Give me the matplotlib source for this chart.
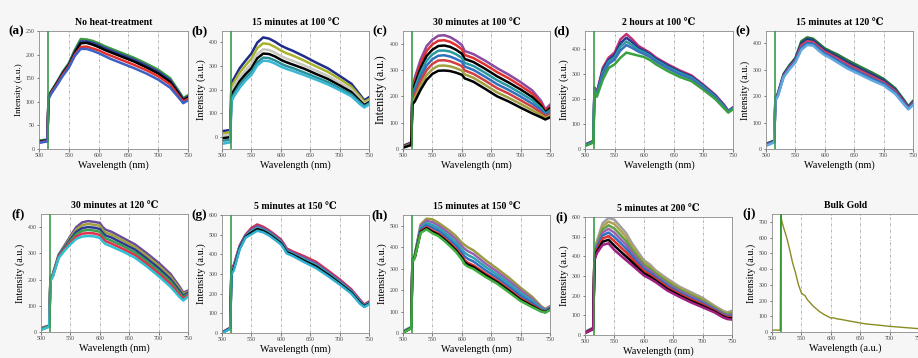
import matplotlib
matplotlib.use('agg')
import matplotlib.pyplot as plt
import numpy as np

plt.rcParams['font.family'] = ['Liberation Serif', 'DejaVu Serif']

# wavelength grid (nm) used for the read-off spectra
wl = [500, 514, 516, 520, 530, 540, 550, 560, 570, 580, 590, 600, 605, 610,
      620, 640, 660, 680, 700, 720, 735, 742, 750]

# (a) no heat-treatment
int_a = [
    [18, 20, 112, 122, 142, 164, 182, 210, 233, 232, 229, 224, 221, 218, 213, 203, 193, 181, 168, 150, 122, 108, 114],
    [16, 19, 110, 120, 140, 162, 179, 206, 228, 228, 225, 220, 217, 214, 209, 199, 189, 177, 164, 146, 119, 105, 111],
    [15, 18, 109, 119, 139, 160, 177, 203, 224, 225, 221, 216, 213, 210, 205, 195, 185, 173, 160, 142, 116, 103, 109],
    [14, 17, 108, 118, 137, 158, 175, 200, 216, 217, 213, 209, 206, 203, 198, 188, 178, 167, 154, 137, 112, 101, 106],
    [13, 16, 106, 116, 135, 155, 172, 197, 212, 212, 208, 203, 200, 197, 191, 181, 171, 160, 147, 130, 108, 97, 103],
]
# (b) 15 min at 100 C
int_b = [
    [25, 30, 230, 245, 290, 322, 352, 398, 420, 415, 402, 386, 380, 374, 364, 340, 314, 290, 258, 225, 178, 155, 168],
    [15, 20, 215, 230, 272, 302, 330, 375, 395, 392, 380, 365, 359, 353, 344, 322, 298, 275, 245, 213, 170, 148, 160],
    [5, 10, 195, 212, 252, 282, 308, 350, 370, 367, 356, 342, 336, 330, 322, 302, 280, 258, 230, 200, 160, 140, 152],
    [-5, 0, 175, 195, 235, 265, 290, 332, 352, 350, 340, 326, 320, 315, 306, 288, 266, 245, 218, 190, 152, 135, 147],
    [-15, -12, 160, 180, 220, 250, 274, 314, 335, 333, 323, 310, 304, 299, 291, 272, 252, 232, 206, 180, 145, 130, 142],
    [-28, -22, 150, 170, 208, 238, 262, 302, 322, 320, 310, 297, 292, 287, 279, 261, 242, 222, 198, 172, 138, 125, 137],
]
# (c) 30 min at 100 C
int_c = [
    [12, 25, 228, 270, 340, 390, 415, 430, 432, 425, 412, 395, 372, 368, 360, 335, 307, 282, 254, 222, 182, 150, 168],
    [11, 24, 220, 257, 324, 372, 397, 411, 413, 407, 395, 379, 357, 353, 345, 320, 292, 268, 240, 210, 173, 145, 161],
    [10, 22, 211, 244, 307, 353, 377, 391, 393, 388, 377, 362, 342, 338, 330, 304, 276, 252, 226, 197, 164, 139, 154],
    [9, 21, 203, 231, 291, 335, 359, 373, 374, 370, 360, 346, 327, 323, 315, 289, 261, 238, 212, 185, 155, 134, 147],
    [8, 19, 195, 219, 274, 317, 341, 354, 356, 351, 342, 331, 313, 309, 300, 274, 246, 224, 199, 172, 147, 128, 141],
    [7, 18, 187, 206, 258, 299, 323, 336, 337, 333, 325, 315, 298, 294, 285, 259, 231, 210, 185, 160, 138, 123, 134],
    [6, 16, 178, 193, 241, 280, 303, 316, 317, 314, 307, 298, 283, 279, 270, 243, 215, 194, 171, 147, 129, 117, 127],
    [5, 15, 170, 180, 225, 262, 285, 297, 298, 296, 290, 282, 268, 264, 255, 228, 200, 180, 157, 135, 120, 112, 120],
]
# (d) 2 h at 100 C
int_d = [
    [18, 32, 245, 225, 323, 364, 384, 437, 458, 437, 411, 397, 390, 383, 364, 337, 313, 293, 256, 216, 176, 152, 166],
    [17, 31, 242, 222, 314, 356, 375, 422, 443, 425, 403, 391, 384, 377, 359, 332, 308, 288, 252, 213, 173, 151, 164],
    [16, 29, 239, 218, 304, 348, 365, 408, 428, 413, 395, 385, 378, 371, 353, 326, 303, 284, 248, 209, 170, 149, 163],
    [14, 28, 236, 215, 295, 339, 356, 393, 414, 402, 388, 378, 372, 366, 348, 321, 297, 279, 244, 206, 168, 148, 161],
    [12, 25, 230, 208, 276, 323, 337, 364, 384, 378, 372, 366, 360, 354, 337, 310, 287, 270, 236, 199, 162, 145, 158],
]
# (e) 15 min at 120 C
int_e = [
    [20, 32, 195, 210, 285, 318, 345, 408, 423, 418, 400, 381, 376, 370, 360, 335, 312, 290, 266, 230, 185, 162, 182],
    [18, 30, 192, 207, 282, 314, 341, 400, 416, 412, 393, 375, 370, 364, 352, 327, 304, 282, 260, 224, 181, 159, 178],
    [16, 28, 190, 204, 278, 310, 336, 392, 408, 405, 386, 368, 363, 357, 345, 319, 297, 275, 253, 219, 176, 156, 174],
    [14, 27, 187, 201, 275, 306, 332, 383, 401, 398, 379, 361, 356, 350, 337, 311, 289, 267, 247, 213, 172, 153, 170],
    [12, 25, 185, 198, 272, 302, 328, 375, 394, 392, 372, 355, 350, 344, 330, 303, 282, 260, 241, 208, 168, 150, 166],
]
# (f) 30 min at 120 C
int_f = [
    [15, 25, 205, 220, 295, 330, 366, 400, 418, 423, 420, 416, 400, 390, 382, 358, 334, 300, 264, 222, 175, 150, 158],
    [14, 24, 203, 218, 292, 326, 360, 391, 407, 412, 409, 405, 389, 379, 371, 348, 324, 290, 254, 212, 167, 144, 153],
    [12, 23, 201, 216, 290, 322, 353, 382, 396, 400, 398, 393, 378, 368, 360, 337, 314, 280, 244, 202, 159, 138, 149],
    [11, 22, 199, 214, 287, 318, 347, 373, 386, 389, 387, 382, 367, 357, 348, 327, 303, 270, 233, 193, 151, 132, 144],
    [9, 21, 197, 212, 285, 314, 340, 364, 375, 377, 376, 370, 356, 346, 337, 316, 293, 260, 223, 183, 143, 126, 140],
    [8, 20, 195, 210, 282, 310, 334, 355, 364, 366, 365, 359, 345, 335, 326, 306, 283, 250, 213, 173, 135, 120, 135],
]
# (g) 5 min at 150 C
int_g = [
    [3, 27, 335, 345, 445, 500, 534, 552, 540, 522, 500, 476, 455, 430, 415, 390, 362, 318, 273, 222, 168, 145, 160],
    [2, 26, 326, 338, 440, 496, 526, 544, 533, 516, 494, 470, 449, 424, 409, 382, 354, 311, 266, 216, 163, 142, 156],
    [2, 24, 316, 332, 435, 492, 518, 536, 526, 509, 487, 463, 442, 418, 403, 375, 346, 304, 260, 211, 158, 138, 153],
    [1, 23, 307, 325, 430, 489, 510, 528, 519, 502, 480, 457, 436, 411, 398, 367, 338, 297, 253, 205, 153, 135, 149],
    [0, 22, 298, 318, 425, 485, 502, 520, 512, 496, 474, 451, 430, 405, 392, 360, 330, 290, 247, 200, 148, 132, 146],
]
# (h) 15 min at 150 C
int_h = [
    [8, 28, 345, 365, 506, 533, 530, 514, 495, 475, 452, 421, 410, 400, 385, 340, 300, 258, 211, 168, 125, 112, 125],
    [7, 27, 342, 362, 498, 523, 517, 502, 482, 461, 437, 405, 392, 382, 368, 324, 286, 244, 199, 158, 120, 109, 122],
    [6, 26, 339, 359, 490, 513, 504, 489, 469, 447, 422, 390, 374, 364, 350, 309, 272, 231, 186, 149, 115, 105, 118],
    [4, 24, 336, 356, 483, 503, 491, 477, 456, 433, 408, 374, 356, 346, 333, 293, 258, 217, 174, 139, 110, 102, 115],
    [3, 23, 333, 353, 475, 493, 478, 464, 443, 419, 393, 359, 338, 328, 315, 278, 244, 204, 161, 130, 105, 98, 111],
    [2, 23, 332, 352, 471, 488, 472, 458, 437, 412, 385, 351, 329, 319, 307, 270, 237, 197, 155, 125, 102, 97, 110],
    [2, 22, 330, 350, 467, 483, 465, 452, 430, 405, 378, 343, 320, 310, 298, 262, 230, 190, 149, 120, 100, 95, 108],
]
# (i) 5 min at 200 C
int_i = [
    [15, 38, 400, 475, 569, 595, 586, 552, 518, 466, 423, 380, 370, 360, 329, 286, 247, 218, 189, 149, 123, 115, 123],
    [14, 37, 397, 467, 553, 577, 564, 532, 499, 450, 410, 369, 360, 350, 321, 278, 240, 211, 182, 144, 118, 110, 117],
    [14, 36, 394, 458, 537, 558, 541, 510, 478, 434, 396, 358, 348, 339, 312, 269, 232, 203, 175, 139, 113, 105, 110],
    [13, 35, 391, 449, 521, 540, 520, 489, 459, 418, 383, 347, 338, 329, 303, 260, 225, 196, 168, 134, 108, 100, 104],
    [12, 33, 389, 441, 506, 521, 498, 469, 439, 403, 369, 336, 327, 318, 295, 252, 217, 188, 162, 130, 104, 96, 97],
    [11, 32, 386, 432, 490, 503, 477, 448, 420, 387, 356, 325, 317, 308, 286, 243, 210, 181, 155, 125, 99, 91, 91],
    [11, 31, 383, 423, 474, 484, 454, 426, 399, 371, 342, 314, 306, 297, 277, 234, 202, 173, 148, 120, 94, 86, 84],
    [10, 30, 380, 415, 458, 466, 432, 406, 380, 355, 329, 303, 295, 287, 269, 226, 195, 166, 141, 115, 89, 81, 78],
]
# (j) bulk gold
wl_j = [500, 513, 514, 515, 517, 520, 525, 530, 535, 540, 545, 550, 553, 556, 560,
        570, 580, 590, 600, 605, 610, 620, 640, 660, 680, 700, 720, 750]
int_j = [12, 12, 12, 740, 700, 660, 600, 524, 440, 376, 300, 248, 238, 232, 206,
         165, 132, 108, 89, 90, 84, 78, 64, 51, 44, 36, 30, 21]

labels = ['(a)', '(b)', '(c)', '(d)', '(e)', '(f)', '(g)', '(h)', '(i)', '(j)']
titles = ['No heat-treatment', '15 minutes at 100 \u2103', '30 minutes at 100 \u2103',
          '2 hours at 100 \u2103', '15 minutes at 120 \u2103', '30 minutes at 120 \u2103',
          '5 minutes at 150 \u2103', '15 minutes at 150 \u2103', '5 minutes at 200 \u2103',
          'Bulk Gold']
ylabels = ['Intensity (a.u.)'] * 10
ylabels[2] = 'Intenisty (a.u.)'
xlabels = ['Wavelength (nm)'] * 9 + ['Wavelength (a.u.)']
ylims = [(0, 250), (-50, 447), (0, 448), (0, 470), (0, 447),
         (0, 450), (0, 600), (0, 550), (0, 600), (0, 750)]
ystep = [50, 100, 100, 100, 100, 100, 100, 100, 100, 100]
ytop = [250, 400, 400, 400, 400, 400, 600, 500, 600, 700]

series = [int_a, int_b, int_c, int_d, int_e, int_f, int_g, int_h, int_i]
colors = [
    ['#3f9a3f', '#2c3f9c', 'black', '#e3302c', '#3d62c4'],
    ['#1f2d8a', '#a9b22e', '#c8c8c0', 'black', '#2a8f96', '#3ab7d6'],
    ['#8a4aa0', '#e03030', 'black', '#2a9aa0', '#3070c0', '#d04040', '#a0a040', 'black'],
    ['#c03070', '#2a3a90', '#2a9aa0', '#3a70c0', '#3aa040'],
    ['#2a7a3a', '#1f3a8a', '#d04060', '#3070c0', '#60a8e0'],
    ['#6a4a9a', '#a0a040', '#2a3a90', '#3a9a50', '#e03050', '#30c0d0'],
    ['#d03050', '#8a4aa0', '#30a0b0', 'black', '#30b0d0'],
    ['#9a9a40', '#9a60b0', '#30a0b0', '#3070c0', '#e03030', 'black', '#40b040'],
    ['#a0a0a0', '#b0a050', '#60a040', '#9a60b0', '#3070c0', '#e03030', 'black', '#a02080'],
]
ylab_size = [6.5, 7.5, 8.5, 7.5, 7.2, 7.2, 7.5, 7.5, 7.5, 7.2]

W, H = 918, 358
# axes boxes in pixels: left, top, right, bottom
boxes = [(39, 31, 188, 149), (222, 31, 369, 149), (403, 31, 550, 149),
         (585, 31, 733, 149), (766, 31, 913, 149),
         (41, 214, 188, 332), (222, 215, 369, 333), (403, 215, 550, 333),
         (585, 217, 732, 335), (772, 214, 919, 332)]

fig = plt.figure(figsize=(W / 100, H / 100), dpi=100, facecolor='#f6f6f6')

for k in range(10):
    l, t, r, b = boxes[k]
    ax = fig.add_axes([l / W, 1 - b / H, (r - l) / W, (b - t) / H])
    ax.set_facecolor('white')
    if k < 9:
        for s, c in zip(series[k], colors[k]):
            ax.plot(wl, s, color=c, lw=1.8, solid_joinstyle='round')
        ax.axvline(515, color='#3a9a4a', lw=1.2, zorder=5)
    else:
        ax.plot(wl_j, int_j, color='#8b8b22', lw=1.0)
        ax.axvline(514.5, color='#2a9a3a', lw=1.2, zorder=5)
    ax.set_xlim(500, 750)
    ax.set_ylim(*ylims[k])
    ax.set_xticks(np.arange(500, 751, 50))
    ax.set_yticks(np.arange(0, ytop[k] + 1, ystep[k]))
    for g in [550, 600, 650, 700]:
        ax.axvline(g, color='#999999', lw=0.5, ls=(0, (4, 2, 1, 2)), zorder=0)
    for sp in ax.spines.values():
        sp.set_color('#8a8a8a')
        sp.set_linewidth(0.6)
    ax.tick_params(labelsize=4.2, length=1.8, width=0.5, pad=1.2, colors='#444444')
    ax.set_title(titles[k], fontsize=7, fontweight='bold', pad=4)
    ax.set_xlabel(xlabels[k], fontsize=7.3, labelpad=1.5)
    ax.set_ylabel(ylabels[k], fontsize=ylab_size[k], labelpad=2)
    fig.text((l - 23) / W, 1 - t / H, labels[k], fontsize=9.5, fontweight='bold',
             ha='center', va='center')

fig.savefig('out.png', dpi=100, facecolor=fig.get_facecolor())
